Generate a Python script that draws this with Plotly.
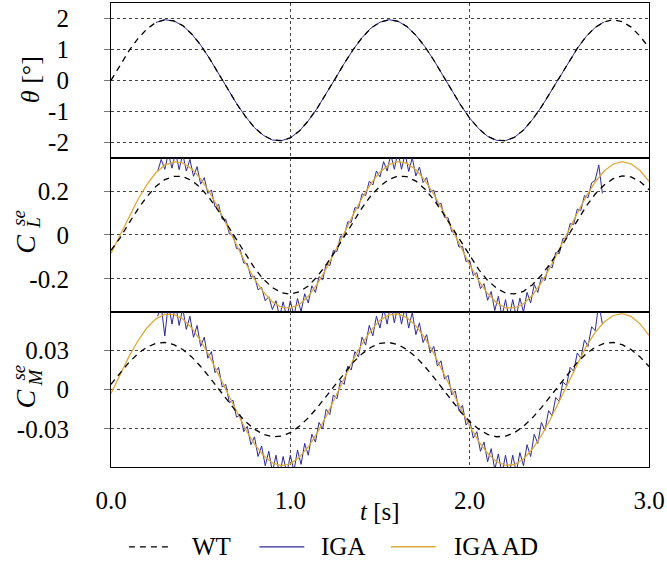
import plotly.graph_objects as go
from plotly.subplots import make_subplots

# ---------------- data ----------------
t_wt = [0.00,0.05,0.10,0.15,0.20,0.25,0.30,0.35,0.40,0.45,0.50,0.55,0.60,0.65,0.70,0.75,
        0.80,0.85,0.90,0.95,1.00,1.05,1.10,1.15,1.20,1.25,1.30,1.35,1.40,1.45,1.50,1.55,
        1.60,1.65,1.70,1.75,1.80,1.85,1.90,1.95,2.00,2.05,2.10,2.15,2.20,2.25,2.30,2.35,
        2.40,2.45,2.50,2.55,2.60,2.65,2.70,2.75,2.80,2.85,2.90,2.95,3.00]

theta_wt = [0.00,0.49,0.95,1.35,1.66,1.87,1.96,1.92,1.77,1.50,1.14,0.70,0.22,-0.27,-0.75,-1.17,
            -1.53,-1.78,-1.93,-1.95,-1.86,-1.64,-1.31,-0.90,-0.44,0.05,0.54,0.99,1.38,1.69,1.88,1.96,
            1.91,1.74,1.46,1.09,0.65,0.17,-0.32,-0.80,-1.22,-1.56,-1.81,-1.94,-1.95,-1.84,-1.61,-1.27,
            -0.86,-0.39,0.10,0.58,1.03,1.42,1.71,1.89,1.96,1.90,1.72,1.43,1.05]

cl_wt = [-0.070,-0.014,0.054,0.118,0.175,0.221,0.253,0.268,0.267,0.249,0.215,0.167,0.109,0.044,-0.024,-0.090,
         -0.151,-0.202,-0.240,-0.263,-0.270,-0.259,-0.233,-0.190,-0.136,-0.074,-0.007,0.061,0.124,0.180,0.223,0.254,
         0.269,0.266,0.246,0.210,0.161,0.102,0.037,-0.031,-0.097,-0.157,-0.207,-0.243,-0.265,-0.269,-0.257,-0.227,
         -0.183,-0.130,-0.068,0.000,0.067,0.131,0.187,0.228,0.257,0.270,0.265,0.244,0.207]

cm_wt = [0.0041,0.0128,0.0208,0.0274,0.0324,0.0353,0.0360,0.0344,0.0306,0.0250,0.0177,0.0094,0.0005,-0.0085,-0.0170,-0.0243,
         -0.0302,-0.0341,-0.0359,-0.0355,-0.0328,-0.0280,-0.0215,-0.0137,-0.0050,0.0041,0.0128,0.0208,0.0274,0.0324,0.0353,0.0360,
         0.0344,0.0306,0.0250,0.0177,0.0094,0.0005,-0.0085,-0.0170,-0.0243,-0.0302,-0.0341,-0.0359,-0.0355,-0.0328,-0.0280,-0.0215,
         -0.0137,-0.0050,0.0041,0.0128,0.0208,0.0274,0.0324,0.0353,0.0360,0.0344,0.0306,0.0250,0.0177]

cl_ad = [-0.084,0.000,0.084,0.162,0.230,0.284,0.319,0.334,0.329,0.302,0.256,0.194,0.120,0.038,-0.046,-0.128,
         -0.201,-0.261,-0.305,-0.330,-0.334,-0.317,-0.280,-0.224,-0.154,-0.075,0.008,0.092,0.169,0.236,0.288,0.321,
         0.335,0.327,0.298,0.250,0.186,0.112,0.029,-0.055,-0.136,-0.208,-0.267,-0.309,-0.332,-0.333,-0.314,-0.275,
         -0.217,-0.146,-0.067,0.017,0.100,0.176,0.242,0.292,0.323,0.335,0.325,0.294,0.245]

cm_ad = [-0.0029,0.0115,0.0252,0.0373,0.0471,0.0540,0.0575,0.0575,0.0540,0.0471,0.0373,0.0252,0.0115,-0.0029,-0.0171,-0.0302,
         -0.0415,-0.0502,-0.0559,-0.0580,-0.0566,-0.0516,-0.0437,-0.0330,-0.0203,-0.0058,0.0086,0.0226,0.0350,0.0453,0.0530,0.0570,
         0.0578,0.0550,0.0487,0.0395,0.0277,0.0143,0.0000,-0.0143,-0.0277,-0.0395,-0.0487,-0.0550,-0.0578,-0.0571,-0.0529,-0.0453,
         -0.0350,-0.0226,-0.0086,0.0058,0.0203,0.0330,0.0437,0.0516,0.0566,0.0580,0.0559,0.0502,0.0415]

t_theta_iga = [0.25,0.30,0.35,0.40,0.45,0.50,0.55,0.60,0.65,0.70,0.75,0.80,0.85,0.90,0.95,1.00,
               1.05,1.10,1.15,1.20,1.25,1.30,1.35,1.40,1.45,1.50,1.55,1.60,1.65,1.70,1.75,1.80,
               1.85,1.90,1.95,2.00,2.05,2.10,2.15,2.20,2.25,2.30,2.35,2.40,2.45,2.50,2.55,2.60,
               2.65,2.70,2.75]

theta_iga = [1.87,1.96,1.92,1.77,1.50,1.14,0.70,0.22,-0.27,-0.75,-1.17,-1.53,-1.78,-1.93,-1.95,-1.86,
             -1.64,-1.31,-0.90,-0.44,0.05,0.54,0.99,1.38,1.69,1.88,1.96,1.91,1.74,1.46,1.09,0.65,
             0.17,-0.32,-0.80,-1.22,-1.56,-1.81,-1.94,-1.95,-1.84,-1.61,-1.27,-0.86,-0.39,0.10,0.58,1.03,
             1.42,1.71,1.89]

t_iga = [0.26,0.28,0.30,0.32,0.34,0.36,0.38,0.40,0.42,0.44,0.46,0.48,0.50,0.52,0.54,0.56,0.58,0.60,0.62,0.64,
         0.66,0.68,0.70,0.72,0.74,0.76,0.78,0.80,0.82,0.84,0.86,0.88,0.90,0.92,0.94,0.96,0.98,1.00,1.02,1.04,
         1.06,1.08,1.10,1.12,1.14,1.16,1.18,1.20,1.22,1.24,1.26,1.28,1.30,1.32,1.34,1.36,1.38,1.40,1.42,1.44,
         1.46,1.48,1.50,1.52,1.54,1.56,1.58,1.60,1.62,1.64,1.66,1.68,1.70,1.72,1.74,1.76,1.78,1.80,1.82,1.84,
         1.86,1.88,1.90,1.92,1.94,1.96,1.98,2.00,2.02,2.04,2.06,2.08,2.10,2.12,2.14,2.16,2.18,2.20,2.22,2.24,
         2.26,2.28,2.30,2.32,2.34,2.36,2.38,2.40,2.42,2.44,2.46,2.48,2.50,2.52,2.54,2.56,2.58,2.60,2.62,2.64,
         2.66,2.68,2.70,2.72,2.74]

cl_iga = [0.290,0.345,0.300,0.372,0.305,0.378,0.298,0.370,0.292,0.345,
          0.268,0.312,0.232,0.262,0.190,0.205,0.128,0.140,0.072,0.072,
          0.005,0.002,-0.062,-0.065,-0.128,-0.130,-0.192,-0.188,-0.250,-0.240,
          -0.300,-0.282,-0.340,-0.300,-0.372,-0.305,-0.378,-0.300,-0.370,-0.290,
          -0.350,-0.268,-0.310,-0.232,-0.262,-0.190,-0.205,-0.132,-0.140,-0.070,
          -0.075,-0.005,-0.008,0.060,0.058,0.125,0.122,0.188,0.180,0.245,
          0.228,0.292,0.265,0.335,0.292,0.368,0.300,0.380,0.300,0.372,
          0.290,0.352,0.270,0.310,0.240,0.262,0.195,0.205,0.138,0.145,
          0.080,0.078,0.015,0.012,-0.055,-0.052,-0.122,-0.115,-0.185,-0.172,
          -0.245,-0.222,-0.298,-0.258,-0.345,-0.280,-0.372,-0.295,-0.380,-0.295,
          -0.372,-0.288,-0.352,-0.262,-0.310,-0.226,-0.262,-0.192,-0.208,-0.140,
          -0.150,-0.080,-0.085,-0.015,-0.018,0.052,0.048,0.118,0.112,0.180,
          0.170,0.238,0.250,0.320,0.190]

cm_iga = [0.056,0.064,0.041,0.066,0.050,0.065,0.049,0.062,0.046,0.056,
          0.040,0.049,0.033,0.040,0.024,0.029,0.013,0.017,0.002,0.004,
          -0.010,-0.008,-0.021,-0.019,-0.032,-0.028,-0.042,-0.036,-0.051,-0.043,
          -0.058,-0.047,-0.063,-0.050,-0.065,-0.051,-0.064,-0.050,-0.062,-0.046,
          -0.057,-0.041,-0.050,-0.034,-0.040,-0.025,-0.030,-0.015,-0.019,-0.004,
          -0.007,0.007,0.004,0.018,0.015,0.029,0.025,0.040,0.034,0.049,
          0.041,0.056,0.047,0.062,0.050,0.066,0.051,0.065,0.050,0.063,
          0.047,0.059,0.042,0.051,0.036,0.042,0.028,0.033,0.018,0.022,
          0.008,0.011,-0.004,-0.001,-0.016,-0.012,-0.027,-0.023,-0.037,-0.032,
          -0.047,-0.040,-0.055,-0.045,-0.061,-0.049,-0.064,-0.050,-0.065,-0.050,
          -0.063,-0.048,-0.058,-0.042,-0.051,-0.034,-0.041,-0.025,-0.031,-0.016,
          -0.020,-0.006,-0.009,0.006,0.003,0.017,0.014,0.028,0.024,0.038,
          0.033,0.048,0.045,0.066,0.050]

x_ticks = [0, 1, 2, 3]
x_ticktext = ["0.0", "1.0", "2.0", "3.0"]
y1_ticks = [2, 1, 0, -1, -2]
y1_ticktext = ["2", "1", "0", "-1", "-2"]
y2_ticks = [0.2, 0, -0.2]
y2_ticktext = ["0.2", "0", "-0.2"]
y3_ticks = [0.03, 0, -0.03]
y3_ticktext = ["0.03", "0", "-0.03"]

names = ["WT", "IGA", "IGA AD"]

# ---------------- styling ----------------
FONT = "Liberation Serif, Times New Roman, Tinos, Nimbus Roman, FreeSerif, serif"
C_WT = "#000000"
C_IGA = "#2e2a96"
C_AD = "#dcab3c"
DASH = "6px,5px"
W, H = 667, 562
L, R, T, B = 111, 16, 2, 95

fig = make_subplots(rows=3, cols=1, shared_xaxes=True, vertical_spacing=0)

panels = [
    (1, theta_iga, theta_wt, None, t_theta_iga),
    (2, cl_iga, cl_wt, cl_ad, t_iga),
    (3, cm_iga, cm_wt, cm_ad, t_iga),
]
for row, iga, wt, ad, tiga in panels:
    fig.add_trace(go.Scatter(x=tiga, y=iga, mode="lines", name=names[1],
                             line=dict(color=C_IGA, width=1), showlegend=False),
                  row=row, col=1)
    if ad is not None:
        fig.add_trace(go.Scatter(x=t_wt, y=ad, mode="lines", name=names[2],
                                 line=dict(color=C_AD, width=1.3), showlegend=False),
                      row=row, col=1)
    fig.add_trace(go.Scatter(x=t_wt, y=wt, mode="lines", name=names[0],
                             line=dict(color=C_WT, width=1.3, dash=DASH), showlegend=False),
                  row=row, col=1)

axis_common = dict(showline=True, mirror=True, linecolor="black", linewidth=1.2,
                   showgrid=True, gridcolor="#444", griddash="dot", gridwidth=1,
                   zeroline=False)

for r in (1, 2, 3):
    fig.update_xaxes(range=[0, 3], tickvals=x_ticks, ticktext=x_ticktext,
                     showticklabels=(r == 3), ticks="", ticklabelstandoff=11,
                     row=r, col=1, **axis_common)

y_specs = [(1, [-2.5, 2.5], y1_ticks, y1_ticktext),
           (2, [-0.353, 0.353], y2_ticks, y2_ticktext),
           (3, [-0.059, 0.059], y3_ticks, y3_ticktext)]
for r, rng, tv, tt in y_specs:
    fig.update_yaxes(range=rng, tickvals=tv, ticktext=tt,
                     ticks="outside", ticklen=6, tickcolor="#777",
                     ticklabelstandoff=30, row=r, col=1, **axis_common)

PW = W - L - R
PH = H - T - B


def px2x(px):
    return (px - L) / PW


def px2y(py):
    return (H - B - py) / PH


ann = [
    dict(text="<i>θ</i> [°]", x=px2x(31), y=px2y(79), textangle=-90, font=dict(size=26)),
    dict(text="<i>t</i> [s]", x=0.5, y=px2y(512), font=dict(size=25)),
    # C_L^se
    dict(text="<i>C</i>", x=px2x(25), y=px2y(244), textangle=-90, font=dict(size=28)),
    dict(text="<i>se</i>", x=px2x(18), y=px2y(217), textangle=-90, font=dict(size=19)),
    dict(text="<i>L</i>", x=px2x(33), y=px2y(222), textangle=-90, font=dict(size=19)),
    # C_M^se
    dict(text="<i>C</i>", x=px2x(25), y=px2y(399), textangle=-90, font=dict(size=28)),
    dict(text="<i>se</i>", x=px2x(18), y=px2y(372), textangle=-90, font=dict(size=19)),
    dict(text="<i>M</i>", x=px2x(35), y=px2y(377), textangle=-90, font=dict(size=19)),
]

# hand-built legend (sample lines + labels)
leg_y = px2y(547)
leg_items = [
    (129, 173, 190, names[0], dict(color=C_WT, width=1.3, dash=DASH)),
    (260, 305, 320, names[1], dict(color=C_IGA, width=1.3)),
    (392, 437, 453, names[2], dict(color=C_AD, width=1.5)),
]
shapes = []
for x0, x1, xt, label, ln in leg_items:
    shapes.append(dict(type="line", xref="paper", yref="paper",
                       x0=px2x(x0), x1=px2x(x1), y0=leg_y, y1=leg_y, line=ln))
    ann.append(dict(text=label, x=px2x(xt), y=leg_y, xanchor="left", font=dict(size=25)))

for a in ann:
    a.setdefault("xanchor", "center")
    a.update(xref="paper", yref="paper", showarrow=False, yanchor="middle")

fig.update_layout(
    width=W, height=H,
    margin=dict(l=L, r=R, t=T, b=B),
    paper_bgcolor="white", plot_bgcolor="white",
    font=dict(family=FONT, size=25, color="black"),
    annotations=ann,
    shapes=shapes,
    showlegend=False,
)

fig.write_html("out.html")
